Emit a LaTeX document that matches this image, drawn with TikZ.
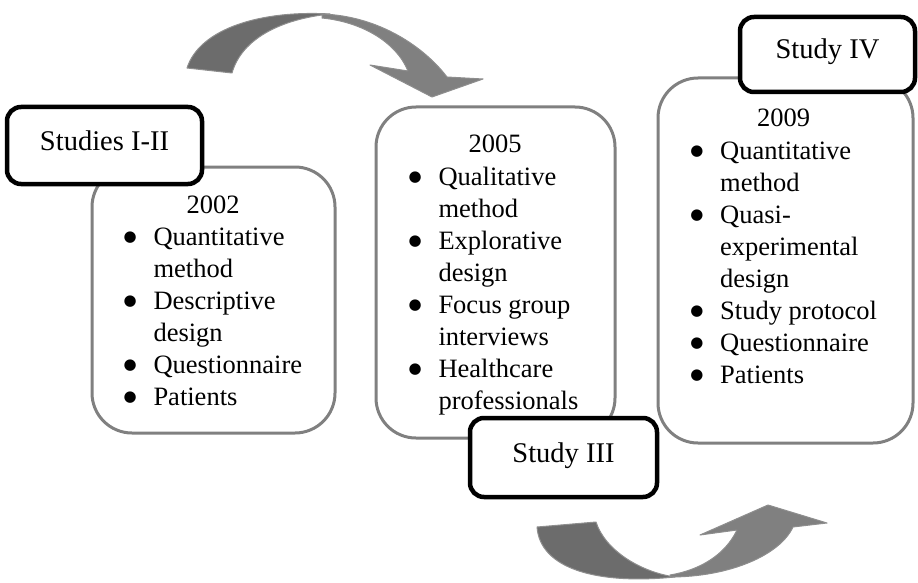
\documentclass[tikz,border=0pt]{standalone}
\usepackage{fontspec}
\setmainfont{Liberation Serif}
\newfontfamily\symfont{DejaVu Sans}
\usetikzlibrary{positioning,calc}
\definecolor{panelgray}{RGB}{128,128,128}
\definecolor{arrowdark}{RGB}{108,108,108}
\definecolor{arrowlight}{RGB}{128,128,128}
\definecolor{arrowedge}{RGB}{142,142,142}
\newcommand{\blt}{\makebox[10pt]{\raisebox{4.2pt}{\symfont\fontsize{15}{15}\selectfont ●}}}

\begin{document}
\begin{tikzpicture}[x=1pt,y=-1pt,
    panel/.style={draw=panelgray, line width=3pt, rounded corners=40pt, fill=white, inner sep=0pt},
    tag/.style={draw=black, line width=4.5pt, rounded corners=14pt, fill=white,
        font=\fontsize{28.5}{32}\selectfont, text height=19pt, text depth=10pt},
    year/.style={anchor=base, inner sep=0pt, font=\fontsize{26.5}{32}\selectfont},
    list/.style={anchor=north west, inner sep=0pt, font=\fontsize{26.5}{32}\selectfont},
    darkpart/.style={fill=arrowdark, draw=arrowedge, line width=1pt, line join=round},
    lightpart/.style={fill=arrowlight, draw=arrowedge, line width=1pt, line join=round}]
    \useasboundingbox (0,0) rectangle (918,583);

    % curved arrows
    \draw[darkpart] (187,68) .. controls (200,28) and (262,10) .. (330,14)
        .. controls (282,19) and (242,38) .. (232,73) -- cycle;
    \draw[lightpart] (322,14) .. controls (380,16) and (425,48) .. (447,77)
        -- (483,79) -- (432,97) -- (370,65) -- (408,71)
        .. controls (396,42) and (362,22) .. (322,18) -- cycle;
    \draw[darkpart] (537,527) .. controls (540,568) and (595,585) .. (675,577)
        .. controls (640,572) and (605,550) .. (596,522) -- cycle;
    \draw[lightpart] (670,577) .. controls (730,577) and (780,555) .. (793,527)
        -- (827,523) -- (768,505) -- (700,535) -- (737,530)
        .. controls (725,555) and (700,570) .. (670,575) -- cycle;

    % panels
    \node[panel, minimum width=243pt, minimum height=266pt] (p1) at (213.5,300) {};
    \node[panel, minimum width=239pt, minimum height=331pt] (p2) at (495.5,272.5) {};
    \node[panel, minimum width=255pt, minimum height=365pt] (p3) at (785.5,260.5) {};

    \node[year] (y1) at (213,213) {2002};
    \node[list] (l1) at (125,222.6) {\begin{tabular}{@{}l@{\hspace{18.3pt}}l@{}}
        \blt & Quantitative\\
             & method\\
        \blt & Descriptive\\
             & design\\
        \blt & Questionnaire\\
        \blt & Patients
    \end{tabular}};

    \node[year] (y2) at (495,153) {2005};
    \node[list] (l2) at (410,162.6) {\begin{tabular}{@{}l@{\hspace{18.3pt}}l@{}}
        \blt & Qualitative\\
             & method\\
        \blt & Explorative\\
             & design\\
        \blt & Focus group\\
             & interviews\\
        \blt & Healthcare\\
             & professionals
    \end{tabular}};

    \node[year] (y3) at (783.5,127) {2009};
    \node[list] (l3) at (691.7,136.6) {\begin{tabular}{@{}l@{\hspace{18.3pt}}l@{}}
        \blt & Quantitative\\
             & method\\
        \blt & Quasi-\\
             & experimental\\
             & design\\
        \blt & Study protocol\\
        \blt & Questionnaire\\
        \blt & Patients
    \end{tabular}};

    % study tags
    \node[tag, minimum width=195pt, minimum height=77pt] (t1) at (104.5,145.5) {Studies I-II};
    \node[tag, minimum width=187pt, minimum height=79pt] (t2) at (563.5,457.5) {Study III};
    \node[tag, minimum width=175pt, minimum height=75pt] (t3) at (827.5,54.5) {Study IV};
\end{tikzpicture}
\end{document}
